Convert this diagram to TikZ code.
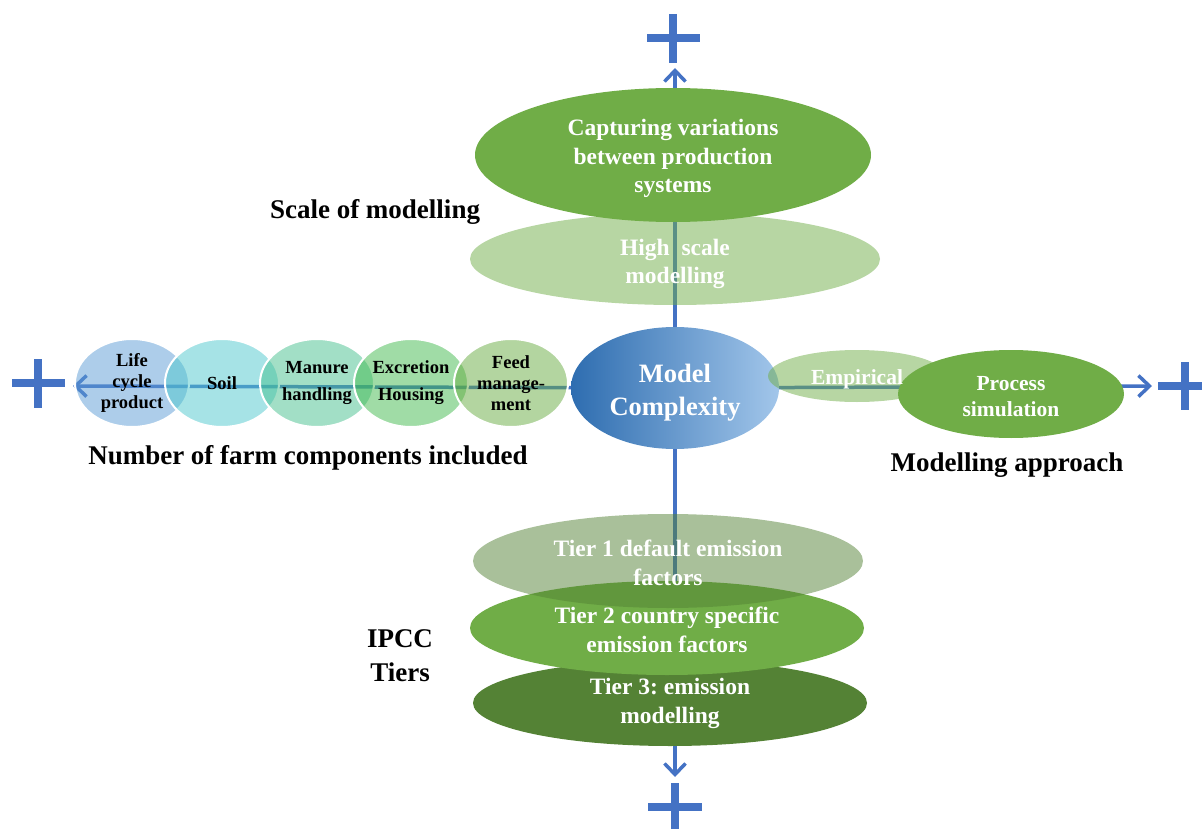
\documentclass[tikz,border=0pt]{standalone}
\usepackage{fontspec}
\setmainfont{Liberation Serif}
\frenchspacing
\usetikzlibrary{shapes.geometric,arrows.meta,backgrounds}
\definecolor{axblue}{HTML}{4472C4}
\definecolor{gA}{HTML}{70AD47}
\definecolor{gB}{HTML}{548235}
\definecolor{lcBase}{HTML}{5B9BD5}
\definecolor{soilBase}{HTML}{4EC8CD}
\definecolor{manBase}{HTML}{46BF8E}
\definecolor{excBase}{HTML}{41B94D}
\definecolor{feedBase}{HTML}{67AB41}
\definecolor{mcL}{HTML}{2E6DB0}
\definecolor{mcR}{HTML}{A2C6EA}
\newcommand\dn[1]{\rule{0pt}{#1}}
\tikzset{
  ell/.style={ellipse, inner sep=0pt, align=center, text=white,
    font=\bfseries\fontsize{23.5}{28.5}\selectfont},
  halfell/.style={ell, fill opacity=0.5, text opacity=1},
  comp/.style={ellipse, inner sep=0pt, minimum width=114pt, minimum height=88pt,
    draw=white, line width=2pt, fill opacity=0.5, text opacity=1, align=center,
    font=\bfseries\fontsize{18.5}{21}\selectfont},
  lab/.style={font=\bfseries\fontsize{27}{34}\selectfont, align=center},
  axisline/.style={draw=axblue, line width=3.5pt},
  axisarrow/.style={axisline, -{Straight Barb[length=11pt,width=21pt]}},
  plusbar/.style={draw=axblue, line width=8pt},
}
\begin{document}
\begin{tikzpicture}[x=1pt,y=-1pt]
\useasboundingbox (0,0) rectangle (1202,829);

% --- scale of modelling (top)
\node[halfell, fill=gA, minimum width=410pt, minimum height=92pt] (hs) at (675,259) {\dn{26pt}High~~scale\\modelling};
\node[ell, fill=gA, minimum width=396pt, minimum height=134pt] (cap) at (673,155) {\dn{24pt}Capturing variations\\between production\\systems};

% --- IPCC tiers (bottom)
\node[ell, fill=gB, minimum width=394pt, minimum height=86pt] (t3) at (670,703) {\dn{17pt}Tier 3: emission\\modelling};
\node[ell, fill=gA, minimum width=394pt, minimum height=94pt] (t2) at (667,628) {\dn{20pt}Tier 2 country specific\\emission factors};
\node[halfell, fill=gB, minimum width=390pt, minimum height=94pt] (t1) at (668,561) {\dn{20pt}Tier 1 default emission\\factors};

% --- farm components (left)
\node[comp, fill=lcBase] (lc) at (132,383) {Life\\cycle\\product};
\node[comp, fill=soilBase] (soil) at (222,383) {Soil};
\node[comp, fill=manBase] (man) at (317,383) {Manure\\[6pt]handling};
\node[comp, fill=excBase] (exc) at (411,383) {Excretion\\[6pt]Housing};
\node[comp, fill=feedBase] (feed) at (511,383) {Feed\\manage-\\ment};

% --- centre
\node[ellipse, inner sep=0pt, minimum width=208pt, minimum height=122pt,
  left color=mcL, right color=mcR, text=white, align=center,
  font=\bfseries\fontsize{26.5}{33}\selectfont] (mc) at (675,388) {\dn{28pt}Model\\Complexity};

% --- modelling approach (right)
\node[halfell, fill=gA, minimum width=178pt, minimum height=52pt,
  font=\bfseries\fontsize{21.5}{26}\selectfont] (emp) at (857,376) {};
\node[ell, fill=gA, minimum width=226pt, minimum height=88pt,
  font=\bfseries\fontsize{21.5}{26}\selectfont] (ps) at (1011,394) {\dn{19pt}Process\\simulation};
\node[text=white, inner sep=0pt, font=\bfseries\fontsize{21.5}{26}\selectfont]
  (empT) at (emp.center) {\dn{22pt}Empirical};

% --- labels
\node[lab] (scaleL) at (375,212) {Scale of modelling};
\node[lab] (farmL) at (308,458) {Number of farm components included};
\node[lab] (appL) at (1007,465) {Modelling approach};
\node[lab] (ipccL) at (400,656) {IPCC\\Tiers};

% --- axes
\coordinate (tipT) at (675,68);
\coordinate (tipB) at (675,777);
\coordinate (tipL) at (73,386);
\coordinate (tipR) at (1152,386);
\begin{pgfonlayer}{background}
\draw[axisarrow] (mc.center) -- (tipT);
\draw[axisarrow] (mc.center) -- (tipB);
\draw[axisarrow] (mc.center) -- (tipL);
\draw[axisarrow] (mc.center) -- (tipR);
\end{pgfonlayer}

% --- plus signs
\draw[plusbar] (647,38) -- (700,38) (673,14) -- (673,63);
\draw[plusbar] (648,807) -- (702,807) (675,783) -- (675,829);
\draw[plusbar] (12,383) -- (65,383) (38,359) -- (38,408);
\draw[plusbar] (1158,386) -- (1212,386) (1185,362) -- (1185,410);
\end{tikzpicture}
\end{document}
